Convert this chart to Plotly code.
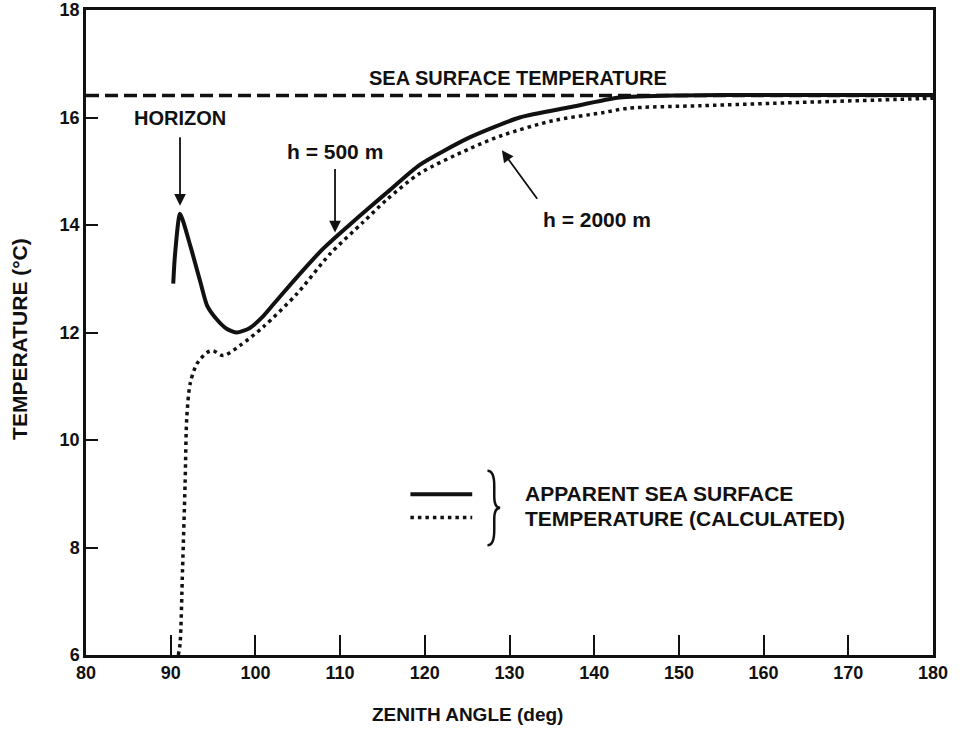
import plotly.graph_objects as go

# ---------------- data ----------------
angle_500 = [90.3, 90.5, 91.1, 92.3, 93.5, 94.3, 95.4, 96.6, 97.8, 99.3, 100.9, 102.1,
             103.3, 105.7, 108.0, 110.8, 113.5, 115.5, 119.4, 125.3, 131.2, 137.1, 143.0,
             150, 160, 170, 180]
temp_500 = [12.91, 13.43, 14.21, 13.62, 12.94, 12.5, 12.25, 12.07, 12.0, 12.08, 12.3, 12.52,
            12.74, 13.17, 13.56, 13.96, 14.33, 14.6, 15.12, 15.63, 16.0, 16.19, 16.37,
            16.41, 16.42, 16.42, 16.42]

angle_2000 = [90.9, 91.1, 91.4, 91.7, 91.9, 92.3, 93.1, 94.3, 95.0, 96.2, 98.2,
              100.9, 104.9, 108.8, 112.7, 115.5, 119.4, 125.3, 129.2, 135.1, 141.0,
              143.9, 152.6, 164.3, 178.5, 180]
temp_2000 = [6.0, 6.2, 7.6, 9.19, 10.42, 11.05, 11.42, 11.63, 11.66, 11.57, 11.76,
             12.1, 12.72, 13.46, 14.05, 14.47, 14.96, 15.42, 15.67, 15.94, 16.09,
             16.17, 16.22, 16.28, 16.35, 16.36]

sea_surface_temp = 16.41
x_range = [80, 180]
y_range = [6, 18]
x_ticks = [80, 90, 100, 110, 120, 130, 140, 150, 160, 170, 180]
y_ticks = [6, 8, 10, 12, 14, 16, 18]

FONT = "Liberation Sans"
BLACK = "#111111"

fig = go.Figure()

# sea surface temperature (dashed)
fig.add_trace(go.Scatter(x=x_range, y=[sea_surface_temp, sea_surface_temp], mode="lines",
                         line=dict(color=BLACK, width=3.5, dash="13px,6px"),
                         showlegend=False, hoverinfo="skip"))
# h = 2000 m (dotted)
fig.add_trace(go.Scatter(x=angle_2000, y=temp_2000, mode="lines",
                         line=dict(color=BLACK, width=3.5, dash="3.5px,4px", shape="spline",
                                   smoothing=0.8),
                         showlegend=False))
# h = 500 m (solid)
fig.add_trace(go.Scatter(x=angle_500, y=temp_500, mode="lines",
                         line=dict(color=BLACK, width=4, shape="spline", smoothing=0.6),
                         showlegend=False))


def bold(size):
    return dict(family=FONT, size=size, color=BLACK, weight="bold")


arrow = dict(showarrow=True, arrowhead=2, arrowsize=1.3, arrowwidth=1.8, arrowcolor=BLACK,
             axref="x", ayref="y", text="")

annotations = [
    dict(x=131.0, y=16.74, text="SEA SURFACE TEMPERATURE", showarrow=False, font=bold(20)),
    dict(x=91.1, y=16.0, text="HORIZON", showarrow=False, font=bold(20)),
    dict(x=91.1, y=14.36, ax=91.1, ay=15.66, **arrow),
    dict(x=109.4, y=15.37, text="h = 500 m", showarrow=False, font=bold(21)),
    dict(x=109.4, y=13.86, ax=109.4, ay=15.07, **arrow),
    dict(x=140.3, y=14.1, text="h = 2000 m", showarrow=False, font=bold(21)),
    dict(x=129.1, y=15.39, ax=133.4, ay=14.46, **arrow),
    # legend text
    dict(x=131.6, y=9.0, text="APPARENT SEA SURFACE", showarrow=False, xanchor="left",
         font=bold(21)),
    dict(x=131.6, y=8.54, text="TEMPERATURE (CALCULATED)", showarrow=False, xanchor="left",
         font=bold(21)),
    # axis titles
    dict(xref="paper", yref="paper", x=0.45, y=-0.093, text="ZENITH ANGLE (deg)",
         showarrow=False, font=bold(19), yanchor="middle"),
    dict(xref="paper", yref="paper", x=-0.078, y=0.49, text="TEMPERATURE (°C)",
         showarrow=False, font=bold(21), textangle=-90, xanchor="center"),
]

brace = ("M 127.4,9.43 Q 128.2,9.43 128.2,9.15 L 128.2,8.95 Q 128.2,8.74 128.9,8.74 "
         "Q 128.2,8.74 128.2,8.53 L 128.2,8.32 Q 128.2,8.04 127.4,8.04")

shapes = [
    # legend samples
    dict(type="line", x0=118.3, x1=125.6, y0=8.99, y1=8.99, xref="x", yref="y",
         line=dict(color=BLACK, width=4)),
    dict(type="line", x0=118.3, x1=125.6, y0=8.56, y1=8.56, xref="x", yref="y",
         line=dict(color=BLACK, width=3.5, dash="3.5px,4px")),
    dict(type="path", path=brace, xref="x", yref="y", line=dict(color=BLACK, width=2.5)),
]

axis_common = dict(ticks="inside", tickwidth=2, tickcolor=BLACK, showgrid=False,
                   zeroline=False, showline=True, linewidth=2.5, linecolor=BLACK,
                   mirror=True, automargin=False, tickfont=bold(18))

fig.update_layout(
    width=960, height=740,
    margin=dict(l=86, r=27, t=10, b=85),
    paper_bgcolor="white", plot_bgcolor="white",
    annotations=annotations, shapes=shapes,
    showlegend=False,
    xaxis=dict(range=x_range, tickvals=x_ticks, ticktext=[f"<b>{v}</b>" for v in x_ticks],
               ticklen=20, **axis_common),
    yaxis=dict(range=y_range, tickvals=y_ticks, ticktext=[f"<b>{v}</b>" for v in y_ticks],
               ticklen=12, **axis_common),
)

fig.write_html("out.html")
